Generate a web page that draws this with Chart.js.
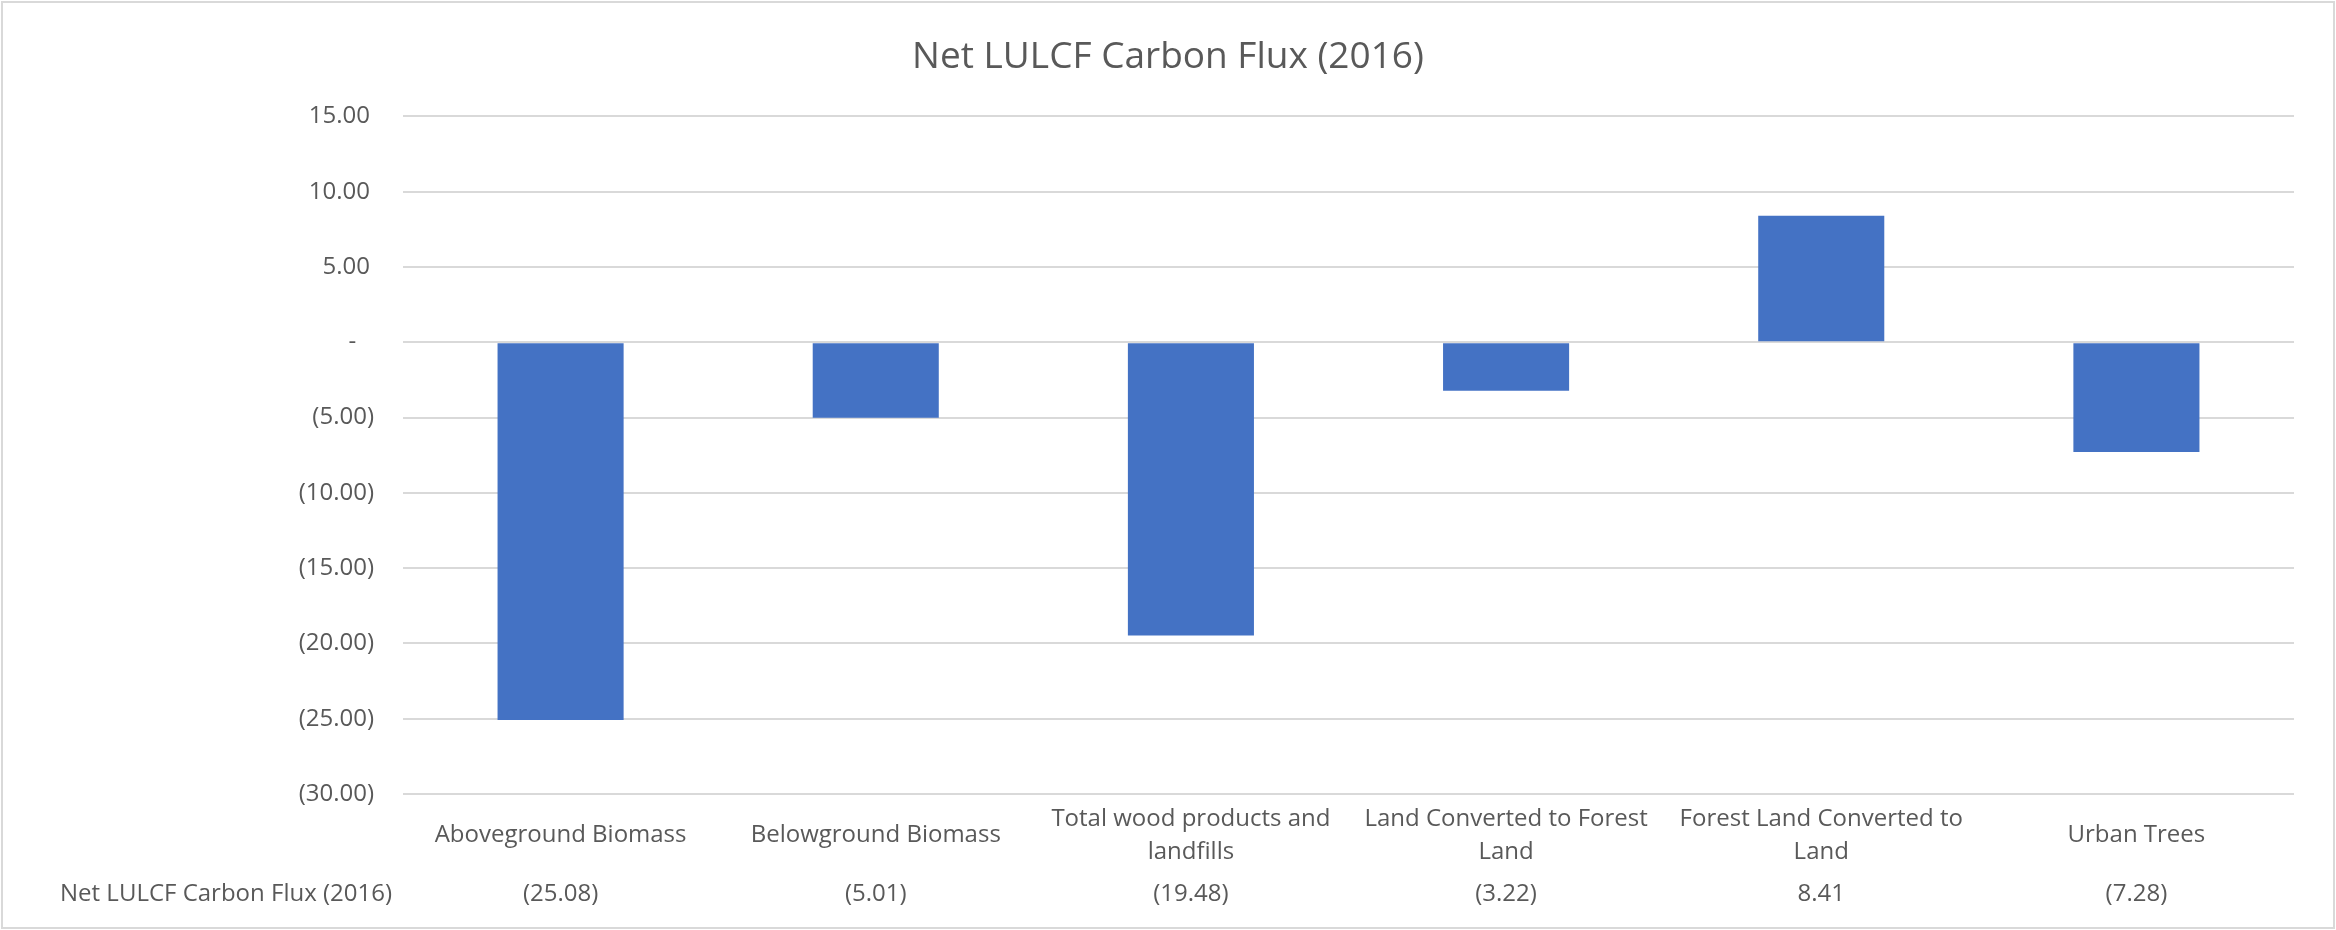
<!DOCTYPE html>
<html>
<head>
<meta charset="utf-8">
<title>Net LULCF Carbon Flux (2016)</title>
<script src="https://cdn.jsdelivr.net/npm/chart.js@4.4.1/dist/chart.umd.min.js"></script>
<style>
  body { margin: 0; background: #fff; }
  #divChart { width: 2336px; height: 930px; position: relative; }
</style>
</head>
<body>
<div id="divChart"><canvas id="myChart"></canvas></div>
<script>
const categories = [
  "Aboveground Biomass",
  "Belowground Biomass",
  ["Total wood products and", "landfills"],
  ["Land Converted to Forest", "Land"],
  ["Forest Land Converted to", "Land"],
  "Urban Trees",
];
const seriesName = "Net LULCF Carbon Flux (2016)";
const fluxValues = [-25.08, -5.01, -19.48, -3.22, 8.41, -7.28];
const yTicks = [15, 10, 5, 0, -5, -10, -15, -20, -25, -30];

const TEXT_COLOR = "#595959";
const GRID_COLOR = "#D9D9D9";
const FONT = "'Open Sans', 'DejaVu Sans', sans-serif";

// excel accounting style: 5.00 , -, (5.00)
function accounting(v, pad) {
  const tail = pad ? "\u2009" : "";
  if (Math.abs(v) < 1e-9) return "-\u2007" + tail;
  let s = Math.abs(v).toFixed(2);
  return v < 0 ? `(${s})` : s + tail;
}

const frameAndTable = {
  id: "frameAndTable",
  beforeDraw(chart) {
    const ctx = chart.ctx;
    ctx.save();
    ctx.fillStyle = "#fff";
    ctx.fillRect(0, 0, chart.width, chart.height);
    ctx.strokeStyle = GRID_COLOR;
    ctx.lineWidth = 2;
    ctx.strokeRect(2, 2, chart.width - 4, chart.height - 4);
    ctx.restore();
  },
  afterDraw(chart) {
    const ctx = chart.ctx;
    const x = chart.scales.x;
    const rowY = 894;
    ctx.save();
    ctx.font = `24px ${FONT}`;
    ctx.fillStyle = TEXT_COLOR;
    ctx.textBaseline = "middle";
    ctx.textAlign = "right";
    ctx.fillText(seriesName, 392, rowY);
    ctx.textAlign = "center";
    fluxValues.forEach((v, i) => {
      ctx.fillText(accounting(v, false), x.getPixelForValue(i), rowY);
    });
    ctx.restore();
  },
};

const config = {
  type: "bar",
  data: {
    labels: categories,
    datasets: [
      {
        label: seriesName,
        data: fluxValues,
        backgroundColor: "#4472C4",
        borderWidth: 0,
        barPercentage: 0.4,
        categoryPercentage: 1.0,
      },
    ],
  },
  options: {
    responsive: true,
    maintainAspectRatio: false,
    animation: false,
    layout: { padding: { left: 42, right: 42, top: 0, bottom: 0 } },
    plugins: {
      legend: { display: false },
      tooltip: { enabled: false },
      title: {
        display: true,
        text: "Net LULCF Carbon Flux (2016)",
        color: TEXT_COLOR,
        font: { family: FONT, size: 37, weight: "normal", lineHeight: 1.2 },
        padding: { top: 35, bottom: 37 },
      },
    },
    scales: {
      x: {
        grid: { display: false },
        border: { display: false },
        ticks: {
          color: TEXT_COLOR,
          font: { family: FONT, size: 24, lineHeight: 1.38 },
          maxRotation: 0,
          autoSkip: false,
          crossAlign: "center",
          padding: 17,
        },
        afterFit: (scale) => {
          scale.height = 136;
        },
      },
      y: {
        min: -30,
        max: 15,
        afterBuildTicks: (scale) => {
          scale.ticks = yTicks.map((v) => ({ value: v }));
        },
        grid: { color: GRID_COLOR, lineWidth: 2, drawTicks: false },
        border: { display: false },
        ticks: {
          color: TEXT_COLOR,
          font: { family: FONT, size: 24 },
          padding: 29,
          callback: (v) => accounting(v, true),
        },
        afterFit: (scale) => {
          scale.width = 361;
        },
      },
    },
  },
  plugins: [frameAndTable],
};

let myChart2D = document.getElementById("myChart").getContext("2d");
let new_chart = new Chart(myChart2D, config);
</script>
</body>
</html>
